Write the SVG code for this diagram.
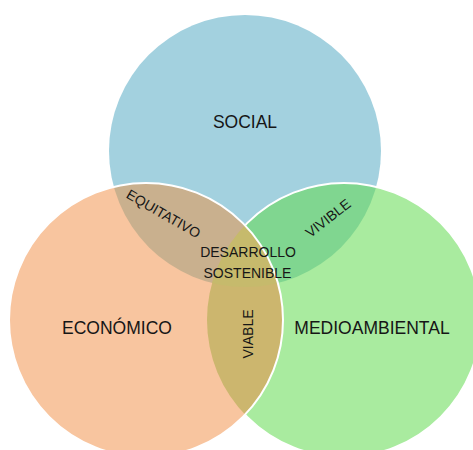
<svg xmlns="http://www.w3.org/2000/svg" width="473" height="450" viewBox="0 0 473 450">
  <defs>
    <clipPath id="clipSocial"><circle cx="245" cy="151" r="136"/></clipPath>
    <clipPath id="clipMedio"><circle cx="344" cy="320" r="137"/></clipPath>
    <style>
      .lbl { font-family: "Liberation Sans", Arial, sans-serif; fill: #161616; text-anchor: middle; }
      .big { font-size: 17.5px; }
      .small { font-size: 14px; }
      .edge { fill: none; stroke: #ffffff; stroke-width: 2; }
    </style>
  </defs>
  <rect width="473" height="450" fill="#ffffff"/>

  <g id="social">
    <circle cx="245" cy="151" r="136" fill="#a3d1df"/>
  </g>

  <g id="medioambiental">
    <circle cx="344" cy="320" r="137" fill="#a9eb9f"/>
    <!-- social ∩ medioambiental -->
    <circle cx="344" cy="320" r="137" fill="#80d690" clip-path="url(#clipSocial)"/>
    <circle class="edge" cx="344" cy="320" r="137"/>
  </g>

  <g id="economico">
    <circle cx="146" cy="320" r="137" fill="#f8c59f"/>
    <!-- social ∩ económico -->
    <circle cx="146" cy="320" r="137" fill="#c9b08e" clip-path="url(#clipSocial)"/>
    <!-- económico ∩ medioambiental -->
    <circle cx="146" cy="320" r="137" fill="#ccb66e" clip-path="url(#clipMedio)"/>
    <!-- triple overlap -->
    <g clip-path="url(#clipSocial)">
      <circle cx="146" cy="320" r="137" fill="#c6ba6c" clip-path="url(#clipMedio)"/>
    </g>
    <circle class="edge" cx="146" cy="320" r="137"/>
  </g>

  <g id="labels">
    <text class="lbl big" x="245" y="128">SOCIAL</text>
    <text class="lbl big" x="117" y="334">ECONÓMICO</text>
    <text class="lbl big" x="372" y="334">MEDIOAMBIENTAL</text>
    <text class="lbl small" x="248" y="257">DESARROLLO</text>
    <text class="lbl small" x="247.5" y="278">SOSTENIBLE</text>
    <text class="lbl small" transform="translate(161,218) rotate(30)">EQUITATIVO</text>
    <text class="lbl small" transform="translate(331,222) rotate(-38)">VIVIBLE</text>
    <text class="lbl small" transform="translate(253,334) rotate(-90)">VIABLE</text>
  </g>
</svg>
